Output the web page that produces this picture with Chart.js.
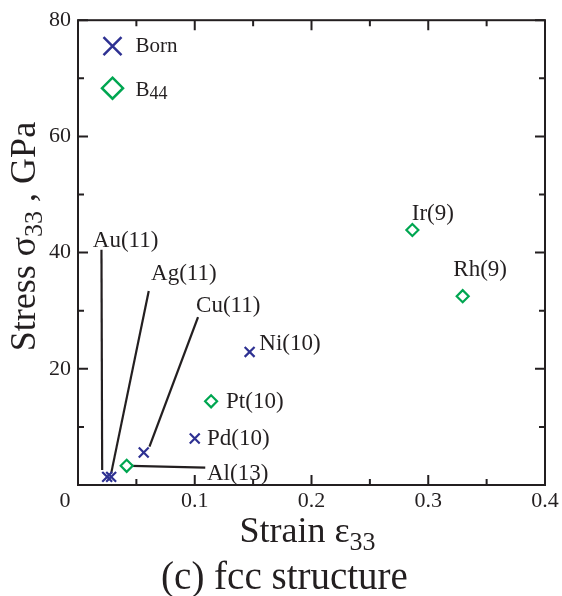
<!DOCTYPE html>
<html><head><meta charset="utf-8">
<script src="https://cdn.jsdelivr.net/npm/chart.js@4/dist/chart.umd.min.js"></script>
<style>html,body{margin:0;padding:0;background:#fff}</style>
</head><body>
<canvas id="c" width="562" height="596"></canvas>
<script>
// ---- data ----
const bornNames = ['Au(11)', 'Ag(11)', 'Cu(11)', 'Pd(10)', 'Ni(10)'];
const bornX = [0.025, 0.0284, 0.0563, 0.100, 0.147];
const bornY = [1.4, 1.4, 5.6, 8.0, 22.9];

const b44Names = ['Al(13)', 'Pt(10)', 'Ir(9)', 'Rh(9)'];
const b44X = [0.0417, 0.114, 0.2864, 0.3295];
const b44Y = [3.3, 14.4, 43.9, 32.5];

// label anchors (left, baseline) in data units
const labelTexts = ['Au(11)', 'Ag(11)', 'Cu(11)', 'Ni(10)', 'Pt(10)', 'Pd(10)', 'Al(13)', 'Ir(9)', 'Rh(9)'];
const labelX = [0.0127, 0.0626, 0.1011, 0.1553, 0.1268, 0.1105, 0.1105, 0.2859, 0.3215];
const labelY = [41.0, 35.2, 29.75, 23.3, 13.2, 6.9, 0.9, 45.6, 36.0];

// leader lines in data units
const leaderX1 = [0.0201, 0.0606, 0.1028, 0.0458];
const leaderY1 = [40.5, 33.4, 28.9, 3.3];
const leaderX2 = [0.0207, 0.0284, 0.0612, 0.1090];
const leaderY2 = [2.6, 2.0, 6.6, 3.0];

const xTicks = [0, 0.1, 0.2, 0.3, 0.4];
const xMinor = [0.05, 0.15, 0.25, 0.35];
const yTicks = [0, 20, 40, 60, 80];
const yMinor = [10, 30, 50, 70];

const INK = '#231F20';
const BLUE = '#2E3192';
const GREEN = '#00A651';
const SERIF = "'Liberation Serif', 'Times New Roman', serif";

const leaderSets = leaderX1.map((x1, i) => ({
  type: 'line',
  data: [{x: x1, y: leaderY1[i]}, {x: leaderX2[i], y: leaderY2[i]}],
  borderColor: INK, borderWidth: 2.2, pointRadius: 0, showLine: true, fill: false, order: 5
}));

function drawParts(ctx, parts, x, y, align) {
  let total = 0;
  parts.forEach(p => { ctx.font = p.size + 'px ' + SERIF; p.w = ctx.measureText(p.t).width; total += p.w; });
  let cx = align === 'center' ? x - total / 2 : x;
  ctx.textAlign = 'left';
  ctx.textBaseline = 'alphabetic';
  parts.forEach(p => { ctx.font = p.size + 'px ' + SERIF; ctx.fillText(p.t, cx, y + (p.dy || 0)); cx += p.w; });
}

const decor = {
  id: 'decor',
  afterDatasetsDraw(chart) {
    const ctx = chart.ctx, a = chart.chartArea;
    const xs = chart.scales.x, ys = chart.scales.y;
    ctx.save();
    ctx.strokeStyle = INK; ctx.fillStyle = INK; ctx.lineWidth = 2;
    // frame
    ctx.strokeRect(a.left, a.top, a.right - a.left, a.bottom - a.top);
    // ticks (inward)
    ctx.beginPath();
    const tx = (v, len) => { const p = xs.getPixelForValue(v); ctx.moveTo(p, a.bottom); ctx.lineTo(p, a.bottom - len); ctx.moveTo(p, a.top); ctx.lineTo(p, a.top + len); };
    const ty = (v, len) => { const p = ys.getPixelForValue(v); ctx.moveTo(a.left, p); ctx.lineTo(a.left + len, p); ctx.moveTo(a.right, p); ctx.lineTo(a.right - len, p); };
    xTicks.forEach(v => tx(v, 10)); xMinor.forEach(v => tx(v, 6));
    yTicks.forEach(v => ty(v, 10)); yMinor.forEach(v => ty(v, 6));
    ctx.stroke();
    // corner "0"
    ctx.font = '22px ' + SERIF; ctx.textAlign = 'center'; ctx.textBaseline = 'alphabetic';
    ctx.fillText('0', xs.getPixelForValue(0) - 13, a.bottom + 22);
    // point labels
    ctx.font = '23px ' + SERIF; ctx.textAlign = 'left';
    labelTexts.forEach((t, i) => ctx.fillText(t, xs.getPixelForValue(labelX[i]), ys.getPixelForValue(labelY[i])));
    // legend
    const lx = a.left + 34.5, ly1 = a.top + 26, ly2 = a.top + 68;
    ctx.strokeStyle = BLUE; ctx.lineWidth = 2.5;
    ctx.beginPath();
    ctx.moveTo(lx - 9, ly1 - 9); ctx.lineTo(lx + 9, ly1 + 9);
    ctx.moveTo(lx + 9, ly1 - 9); ctx.lineTo(lx - 9, ly1 + 9);
    ctx.stroke();
    ctx.strokeStyle = GREEN; ctx.lineWidth = 2.5;
    ctx.beginPath();
    const r = 10.5;
    ctx.moveTo(lx, ly2 - r); ctx.lineTo(lx + r, ly2); ctx.lineTo(lx, ly2 + r); ctx.lineTo(lx - r, ly2); ctx.closePath();
    ctx.stroke();
    ctx.fillStyle = INK;
    drawParts(ctx, [{t: 'Born', size: 21}], a.left + 57.5, a.top + 32, 'left');
    drawParts(ctx, [{t: 'B', size: 21}, {t: '44', size: 18, dy: 3}], a.left + 57.5, a.top + 76, 'left');
    // x title
    const cxm = (a.left + a.right) / 2;
    drawParts(ctx, [{t: 'Strain ε', size: 36}, {t: '33', size: 26, dy: 8}], cxm - 4, a.bottom + 57, 'center');
    // caption
    drawParts(ctx, [{t: '(c) fcc structure', size: 39}], cxm - 27, a.bottom + 104, 'center');
    // y title
    ctx.translate(a.left - 43, (a.top + a.bottom) / 2 - 16);
    ctx.rotate(-Math.PI / 2);
    drawParts(ctx, [{t: 'Stress σ', size: 36}, {t: '33', size: 26, dy: 7}, {t: ' , GPa', size: 36}], 0, 0, 'center');
    ctx.restore();
  }
};

new Chart(document.getElementById('c'), {
  type: 'scatter',
  data: {
    datasets: [
      ...leaderSets,
      {
        label: 'Born',
        data: bornX.map((x, i) => ({x, y: bornY[i]})),
        pointStyle: 'crossRot', pointRadius: 7, borderColor: BLUE, backgroundColor: BLUE,
        pointBorderWidth: 2.2, order: 1
      },
      {
        label: 'B44',
        data: b44X.map((x, i) => ({x, y: b44Y[i]})),
        pointStyle: 'rectRot', pointRadius: 6, borderColor: GREEN, backgroundColor: 'rgba(0,0,0,0)',
        pointBorderWidth: 2.2, order: 1
      }
    ]
  },
  options: {
    responsive: false,
    animation: false,
    events: [],
    layout: {padding: {left: 0, top: 19, right: 17, bottom: 0}},
    plugins: {legend: {display: false}, tooltip: {enabled: false}},
    scales: {
      x: {
        type: 'linear', min: 0, max: 0.4,
        afterBuildTicks: s => { s.ticks = xTicks.map(v => ({value: v})); },
        afterFit: s => { s.height = 111; },
        grid: {display: false, drawTicks: false}, border: {display: false},
        ticks: {padding: 3, color: INK, font: {family: SERIF, size: 22}, maxRotation: 0,
          callback: v => v === 0 ? '' : v.toFixed(1)}
      },
      y: {
        type: 'linear', min: 0, max: 80,
        afterBuildTicks: s => { s.ticks = yTicks.map(v => ({value: v})); },
        afterFit: s => { s.width = 78; },
        grid: {display: false, drawTicks: false}, border: {display: false},
        ticks: {padding: 7, color: INK, font: {family: SERIF, size: 22},
          callback: v => v === 0 ? '' : String(v)}
      }
    }
  },
  plugins: [decor]
});
</script>
</body></html>
